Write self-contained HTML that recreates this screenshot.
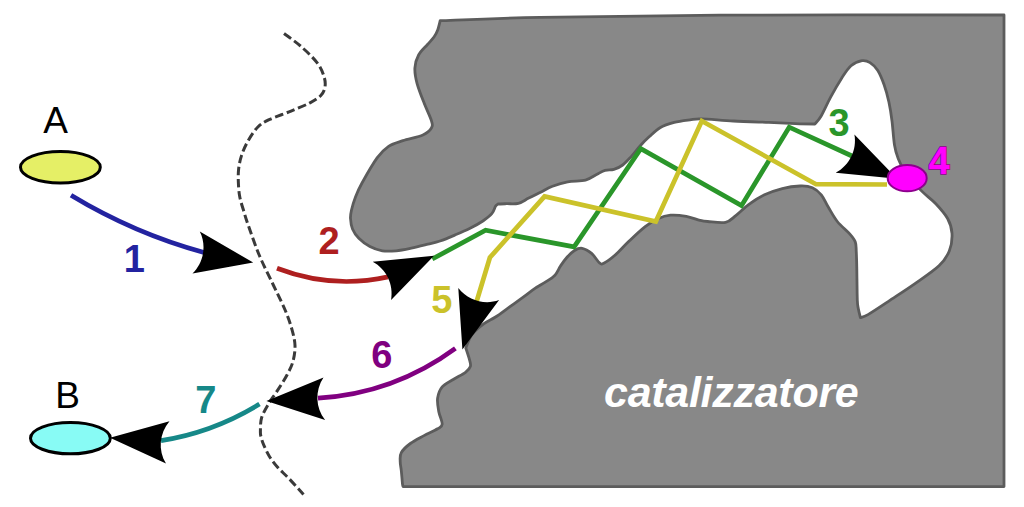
<!DOCTYPE html>
<html><head><meta charset="utf-8"><style>
html,body{margin:0;padding:0;background:#fff;width:1024px;height:507px;overflow:hidden}
svg{display:block}
</style></head><body>
<svg width="1024" height="507" viewBox="0 0 1024 507">
<path d="M440.2,20.7 C456.8,20.1 493.4,18.2 540.0,17.3 C586.6,16.4 642.7,15.6 720.0,15.2 C797.3,14.8 956.7,15.0 1004.0,15.0 L1004.0,486.6 L403.2,486.6 C403.1,486.2 402.8,486.6 402.5,484.0 C402.2,481.4 401.7,474.4 401.3,470.7 C400.9,467.0 400.2,464.6 400.2,461.6 C400.2,458.6 399.6,455.6 401.3,452.6 C403.0,449.6 406.6,446.3 410.4,443.5 C414.2,440.7 419.5,438.1 424.0,435.6 C428.5,433.2 434.6,430.7 437.6,428.8 C440.6,426.9 442.0,427.1 442.2,424.2 C442.4,421.3 439.6,416.0 438.8,411.7 C438.0,407.4 437.0,402.2 437.6,398.1 C438.2,394.0 439.5,390.0 442.2,386.8 C444.9,383.6 449.8,381.6 453.7,379.2 C457.6,376.8 462.7,374.4 465.5,372.3 C468.3,370.2 469.8,368.5 470.4,366.4 C471.0,364.2 470.2,362.5 469.4,359.4 C468.6,356.3 466.4,349.9 465.8,348.0 C466.8,345.8 468.8,338.7 471.8,334.7 C474.8,330.7 479.8,326.8 483.7,323.9 C487.6,320.9 491.2,319.8 495.5,317.0 C499.8,314.2 504.7,310.4 509.3,307.1 C513.9,303.8 518.9,300.3 523.2,297.2 C527.5,294.1 531.4,290.9 535.0,288.4 C538.6,285.9 541.6,284.5 544.9,282.4 C548.2,280.2 552.1,278.2 554.7,275.5 C557.3,272.8 558.5,268.9 560.5,266.0 C562.5,263.1 564.3,260.4 566.6,257.8 C568.9,255.2 571.9,252.1 574.5,250.5 C577.1,248.9 579.2,247.8 582.1,248.3 C585.0,248.8 588.7,251.0 591.6,253.4 C594.5,255.8 597.4,261.3 599.5,262.9 C601.6,264.5 601.6,264.3 604.2,263.0 C606.8,261.7 611.0,258.7 615.2,255.0 C619.4,251.3 624.4,245.5 629.4,240.8 C634.4,236.1 640.5,230.3 645.2,226.6 C650.0,222.9 653.7,220.6 657.9,218.7 C662.1,216.8 665.8,215.6 670.5,215.2 C675.2,214.8 681.4,215.5 686.3,216.3 C691.2,217.2 696.4,219.4 700.0,220.3 C703.6,221.2 703.5,221.2 707.7,221.5 C712.0,221.8 720.8,223.4 725.5,222.4 C730.2,221.4 732.2,218.3 736.1,215.3 C740.0,212.3 743.9,208.0 748.6,204.6 C753.3,201.2 758.9,197.5 764.5,194.8 C770.1,192.1 776.4,190.1 782.3,188.6 C788.2,187.1 795.0,186.2 800.0,186.0 C805.0,185.8 808.9,186.2 812.4,187.7 C815.9,189.2 818.6,191.5 821.3,194.8 C824.0,198.1 825.7,202.9 828.4,207.3 C831.1,211.8 833.8,217.1 837.3,221.5 C840.8,225.9 846.7,230.5 849.7,233.9 C852.7,237.3 854.2,239.0 855.3,242.0 C856.4,245.0 856.0,247.5 856.3,252.0 C856.5,256.5 856.7,262.5 856.8,268.8 C856.9,275.1 857.0,284.1 857.1,290.0 C857.2,295.9 857.1,299.7 857.6,304.3 C858.1,308.9 859.9,315.4 860.4,317.6 C861.7,317.1 863.3,317.3 868.0,314.6 C872.7,311.9 880.7,306.5 888.5,301.3 C896.3,296.1 906.6,289.5 915.0,283.6 C923.4,277.7 933.3,271.2 939.0,265.8 C944.7,260.4 947.1,256.4 949.3,251.0 C951.5,245.6 952.3,238.7 952.0,233.3 C951.7,227.9 950.3,223.4 947.6,218.5 C944.9,213.6 940.2,208.4 935.8,203.7 C931.4,199.0 926.1,195.7 921.0,190.4 C915.9,185.1 908.8,177.4 905.0,172.0 C901.2,166.6 899.8,162.5 898.0,158.0 C896.2,153.5 895.5,151.2 894.5,145.0 C893.5,138.8 892.9,128.2 892.0,121.0 C891.1,113.8 890.2,108.0 888.9,102.0 C887.6,96.0 886.0,90.0 884.1,84.7 C882.2,79.5 880.1,74.2 877.8,70.5 C875.4,66.8 872.6,64.2 870.0,62.6 C867.4,61.0 865.2,60.2 862.0,60.7 C858.8,61.2 854.4,62.8 851.0,65.8 C847.6,68.8 844.9,73.2 841.5,78.4 C838.1,83.7 833.9,91.0 830.5,97.3 C827.1,103.6 823.6,111.8 821.0,116.2 C818.4,120.7 815.9,122.7 814.9,124.0 C811.6,124.0 803.1,124.0 795.4,123.7 C787.7,123.4 779.1,122.9 768.8,122.4 C758.4,122.0 744.5,121.6 733.3,121.0 C722.0,120.4 708.5,119.1 701.3,118.9 C694.1,118.7 694.5,119.2 690.0,119.8 C685.5,120.4 679.2,121.1 674.2,122.4 C669.2,123.7 664.1,125.3 660.0,127.7 C655.9,130.1 652.6,133.6 649.4,136.6 C646.1,139.6 643.5,142.2 640.5,145.5 C637.5,148.8 634.6,152.8 631.6,156.1 C628.6,159.3 625.7,162.8 622.7,165.0 C619.8,167.2 616.9,168.5 613.9,169.4 C610.9,170.3 608.0,169.4 605.0,170.3 C602.0,171.2 599.4,173.2 596.1,174.8 C592.9,176.4 590.2,178.9 585.5,180.1 C580.8,181.3 573.2,180.9 567.7,181.9 C562.2,182.9 557.0,184.6 552.5,186.3 C548.0,188.0 544.6,190.2 540.6,192.2 C536.6,194.2 532.5,196.2 528.8,198.1 C525.1,199.9 522.1,202.4 518.4,203.3 C514.7,204.2 510.0,203.6 506.6,203.7 C503.2,203.8 499.4,203.9 498.0,204.0 C497.6,204.4 496.5,204.7 495.5,206.3 C494.5,207.9 493.9,211.2 491.8,213.7 C489.7,216.1 486.6,218.5 482.9,221.0 C479.2,223.5 474.3,226.2 469.6,228.5 C464.9,230.8 459.7,233.0 454.8,235.1 C449.9,237.2 444.5,239.5 440.0,241.0 C435.5,242.5 432.7,243.0 427.9,244.2 C423.1,245.4 416.6,247.1 411.3,248.2 C406.0,249.3 400.9,250.4 396.1,250.8 C391.3,251.2 386.7,251.5 382.3,250.8 C377.9,250.1 373.8,248.7 369.9,246.6 C366.0,244.5 361.7,241.2 358.8,238.3 C355.9,235.4 353.9,232.3 352.5,229.0 C351.1,225.7 350.7,221.7 350.5,218.5 C350.3,215.3 350.7,213.6 351.5,210.0 C352.3,206.4 353.8,201.5 355.5,197.0 C357.2,192.5 358.4,189.5 362.0,183.0 C365.6,176.5 372.7,164.0 377.1,157.9 C381.5,151.8 384.3,149.3 388.6,146.4 C392.9,143.5 397.2,142.6 402.9,140.7 C408.6,138.8 418.1,137.1 422.9,135.0 C427.6,132.9 430.0,130.4 431.4,128.0 C432.8,125.6 432.6,124.8 431.4,120.7 C430.2,116.6 426.7,109.8 424.3,103.6 C421.9,97.4 418.7,89.5 417.1,83.6 C415.5,77.6 414.6,72.7 414.9,67.9 C415.1,63.1 416.5,58.9 418.6,55.0 C420.7,51.1 424.9,47.5 427.5,44.5 C430.1,41.5 432.3,39.4 434.0,37.0 C435.7,34.6 436.7,32.6 437.7,29.9 C438.7,27.2 439.8,22.2 440.2,20.7 Z" fill="#888888" stroke="#5c5c5c" stroke-width="2.8" stroke-linejoin="round"/>
<path d="M432.3,259.0 L485.6,230.3 L574.1,246.9 L640.8,148.7 L741.5,205.6 L789.2,127.2 L852.0,156.0" fill="none" stroke="#2a962a" stroke-width="4.7" stroke-linejoin="miter"/>
<path d="M887.0,184.5 L816.0,184.2 L701.8,121.0 L655.8,221.6 L544.6,196.4 L489.9,257.5 L476.6,301.5" fill="none" stroke="#cbc22a" stroke-width="4.7" stroke-linejoin="miter"/>
<path d="M283.4,33.0 C286.2,35.2 294.9,41.1 300.5,46.0 C306.1,50.9 313.1,57.5 317.0,62.6 C320.9,67.7 322.8,72.6 324.1,76.8 C325.4,81.0 325.5,84.3 324.9,87.5 C324.3,90.7 323.1,93.2 320.6,95.7 C318.1,98.2 314.9,100.2 310.0,102.8 C305.1,105.4 297.7,108.3 291.0,111.1 C284.3,113.9 275.2,116.8 269.7,119.4 C264.2,122.1 261.6,123.3 257.9,127.0 C254.2,130.7 250.3,137.0 247.6,141.8 C244.9,146.6 243.0,151.0 241.5,155.6 C240.0,160.2 239.1,164.8 238.6,169.4 C238.1,174.0 238.2,178.7 238.4,183.3 C238.6,187.9 238.9,192.4 239.8,197.0 C240.7,201.6 242.2,206.1 243.7,210.9 C245.1,215.7 245.9,218.6 248.5,226.0 C251.1,233.4 255.3,245.7 259.4,255.5 C263.5,265.3 269.0,275.9 273.3,285.0 C277.6,294.1 282.0,302.6 285.1,310.0 C288.2,317.4 290.4,323.8 292.0,329.7 C293.6,335.6 294.8,340.2 295.0,345.5 C295.2,350.8 294.3,356.4 293.0,361.3 C291.7,366.2 289.6,370.1 287.0,375.0 C284.4,379.9 280.3,386.1 277.2,390.9 C274.1,395.7 271.1,399.4 268.5,403.9 C265.9,408.4 263.0,413.1 261.6,417.7 C260.2,422.3 260.5,428.3 260.4,431.6 C260.3,434.9 260.6,435.2 261.2,437.5 C261.8,439.8 262.4,442.1 263.8,445.2 C265.2,448.3 267.0,452.5 269.3,456.2 C271.6,459.9 274.4,463.6 277.6,467.3 C280.8,471.0 284.4,473.8 288.7,478.3 C293.0,482.8 301.0,491.8 303.5,494.5" fill="none" stroke="#3a3a3a" stroke-width="3" stroke-dasharray="8.5,3.7" stroke-dashoffset="-1"/>
<path d="M71,195.3 Q134.6,233.7 204,252.5" fill="none" stroke="#2323a0" stroke-width="4.7"/>
<path d="M277,268.3 Q331.5,289.3 388.1,276.9" fill="none" stroke="#ae1f1f" stroke-width="4.7"/>
<path d="M455.4,348.4 Q394.1,393.5 318,398.2" fill="none" stroke="#800080" stroke-width="4.7"/>
<path d="M259.5,404.1 Q213.2,432.4 161,440.6" fill="none" stroke="#168888" stroke-width="4.7"/>
<path d="M192.5,273.5 L253.2,262.5 L199.8,231.6 C206.8,245.5 203.7,262.5 192.5,273.5 Z" fill="#000"/>
<path d="M391.1,300.1 L434.0,255.7 L372.7,261.7 C386.4,269.0 393.9,284.5 391.1,300.1 Z" fill="#000"/>
<path d="M835.7,172.7 L897.1,178.8 L854.4,134.4 C857.2,149.7 849.6,165.2 835.7,172.7 Z" fill="#000"/>
<path d="M458.3,288.0 L462.4,349.6 L499.1,300.1 C484.5,305.4 468.0,300.4 458.3,288.0 Z" fill="#000"/>
<path d="M323.5,377.4 L266.4,401.0 L325.1,419.9 C315.4,407.7 314.8,390.5 323.5,377.4 Z" fill="#000"/>
<path d="M169.5,421.2 L110.0,437.7 L166.0,463.6 C157.8,450.3 159.3,433.2 169.5,421.2 Z" fill="#000"/>
<ellipse cx="60.4" cy="167.3" rx="39.9" ry="15.7" fill="#e5ef66" stroke="#000" stroke-width="3"/>
<ellipse cx="70.4" cy="438.2" rx="39.9" ry="15.6" fill="#88fbf5" stroke="#000" stroke-width="3"/>
<ellipse cx="907.2" cy="178.2" rx="19.5" ry="13.1" fill="#ff00ff" stroke="#8c008c" stroke-width="2"/>
<g font-family="'Liberation Sans', sans-serif">
<text x="55.5" y="132.9" font-size="37" text-anchor="middle" fill="#000">A</text>
<text x="67.6" y="408.3" font-size="37" text-anchor="middle" fill="#000">B</text>
<g font-weight="bold" font-size="38" text-anchor="middle">
<text x="134.4" y="271.9" fill="#2323a0">1</text>
<text x="329" y="254.4" fill="#ae1f1f">2</text>
<text x="839" y="136" fill="#2a962a">3</text>
<text x="939" y="174.4" fill="#ff00ff" stroke="#8c008c" stroke-width="1.4" paint-order="stroke">4</text>
<text x="441.8" y="313.3" fill="#cbc22a">5</text>
<text x="381.8" y="367.9" fill="#800080">6</text>
<text x="205.7" y="413" fill="#168888">7</text>
</g>
<text x="604" y="406.5" font-size="43" font-weight="bold" font-style="italic" letter-spacing="-0.28" fill="#fff">catalizzatore</text>
</g>
</svg>
</body></html>
